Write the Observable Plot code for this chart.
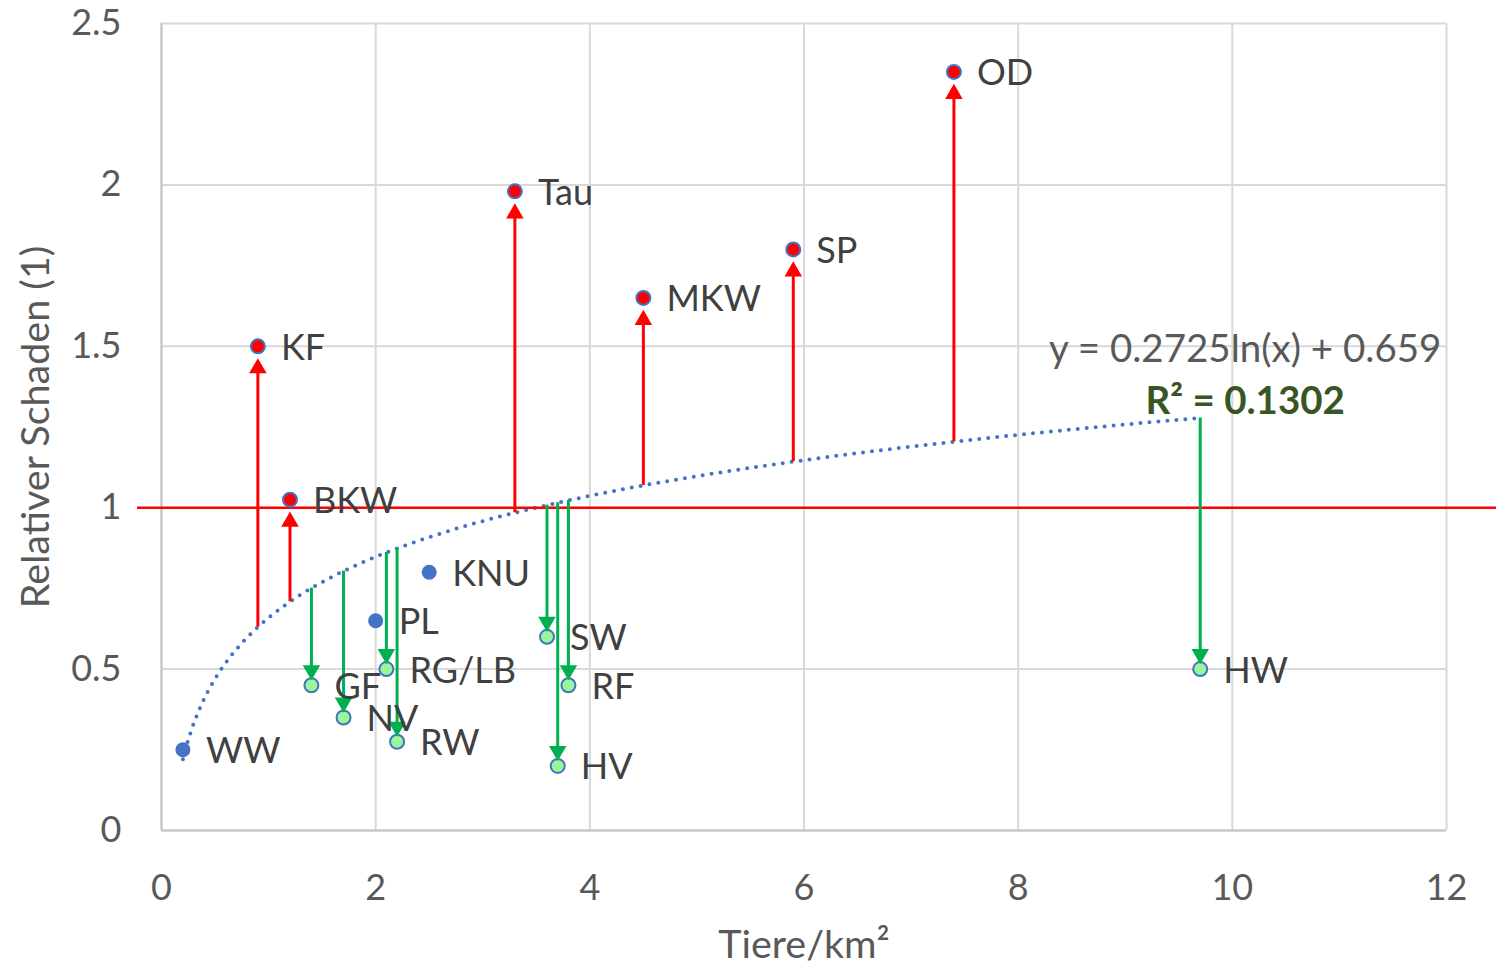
<!DOCTYPE html>
<html>
<head>
<meta charset="utf-8">
<script src="https://cdn.jsdelivr.net/npm/d3@7"></script>
<script src="https://cdn.jsdelivr.net/npm/@observablehq/plot@0.6"></script>
<style>
  body { margin: 0; background: #fff; }
  svg { display: block; }
</style>
</head>
<body>
<div id="chart"></div>
<script>
// ---- data ----
const sites  = ["WW", "KF", "BKW", "GF", "NV", "PL", "RG/LB", "RW", "KNU", "Tau", "SW", "HV", "RF", "MKW", "SP", "OD", "HW"];
const density = [0.2, 0.9, 1.2, 1.4, 1.7, 2.0, 2.1, 2.2, 2.5, 3.3, 3.6, 3.7, 3.8, 4.5, 5.9, 7.4, 9.7];
const damage  = [0.25, 1.5, 1.025, 0.45, 0.35, 0.65, 0.5, 0.275, 0.8, 1.98, 0.6, 0.2, 0.45, 1.65, 1.8, 2.35, 0.5];
// group: "base" = plain series, "above" = above trend, "below" = below trend
const groups  = ["base", "above", "above", "below", "below", "base", "below", "below", "base", "above", "below", "below", "below", "above", "above", "above", "below"];
const xTicks = [0, 2, 4, 6, 8, 10, 12];
const yTicks = [0, 0.5, 1, 1.5, 2, 2.5];
const trendA = 0.2725, trendB = 0.659;   // y = a ln(x) + b
const trendXmin = 0.2, trendXmax = 9.7;
const r2Text = "R\u00B2 = 0.1302";
const eqText = "y = 0.2725ln(x) + 0.659";
const refLevel = 1;

// ---- build tables ----
const trendAt = x => trendA * Math.log(x) + trendB;
const pts = sites.map((s, i) => ({name: s, x: density[i], y: damage[i], g: groups[i], t: trendAt(density[i])}));
const trend = d3.range(0, 201).map(i => {
  const x = trendXmin + (trendXmax - trendXmin) * i / 200;
  return {x, y: trendAt(x)};
});
const above = pts.filter(d => d.g === "above");
const below = pts.filter(d => d.g === "below");
const base = pts.filter(d => d.g === "base");

const FONT = "Lato, 'Open Sans', sans-serif";
const BLUE = "#4472C4", RED = "#FF0000", GREEN = "#00B050", LIGHTGREEN = "#98F898";

const chart = Plot.plot({
  width: 1496,
  height: 965,
  marginLeft: 161,
  marginRight: 50,
  marginTop: 23,
  marginBottom: 135,
  style: {fontFamily: FONT, background: "#fff"},
  x: {domain: [0, 12]},
  y: {domain: [0, 2.5]},
  marks: [
    Plot.gridX(xTicks, {stroke: "#d9d9d9", strokeOpacity: 1, strokeWidth: 2}),
    Plot.gridY(yTicks, {stroke: "#d9d9d9", strokeOpacity: 1, strokeWidth: 2}),
    Plot.ruleX([0], {stroke: "#c4c4c4", strokeWidth: 2}),
    Plot.ruleY([0], {stroke: "#c4c4c4", strokeWidth: 2}),
    Plot.axisX(xTicks, {tickSize: 0, tickPadding: 44, fontSize: 36, fill: "#595959", label: null}),
    Plot.axisY(yTicks, {tickSize: 0, tickPadding: 40, fontSize: 36, fill: "#595959", label: null, tickFormat: d => String(d)}),
    Plot.text(["Tiere/km\u00B2"], {frameAnchor: "bottom", lineAnchor: "middle", textAnchor: "middle", dy: 115, fontSize: 39.5, fill: "#595959"}),
    Plot.text(["Relativer Schaden (1)"], {frameAnchor: "left", lineAnchor: "middle", textAnchor: "middle", dx: -125, rotate: -90, fontSize: 39.5, fill: "#595959"}),
    // trend line
    Plot.line(trend, {x: "x", y: "y", stroke: BLUE, strokeWidth: 4, strokeDasharray: "0 9", strokeLinecap: "round", curve: "linear"}),
    // reference line at 1
    Plot.ruleY([refLevel], {stroke: RED, strokeWidth: 2.5, insetLeft: -24, insetRight: -50}),
    // arrow stems
    Plot.ruleX(above, {x: "x", y1: "y", y2: "t", stroke: RED, strokeWidth: 3, insetTop: 24}),
    Plot.ruleX(below, {x: "x", y1: "t", y2: "y", stroke: GREEN, strokeWidth: 3, insetBottom: 12}),
    // points
    Plot.dot(base, {x: "x", y: "y", r: 7.5, fill: BLUE, stroke: BLUE, strokeWidth: 0}),
    Plot.dot(above, {x: "x", y: "y", r: 7, fill: RED, stroke: BLUE, strokeWidth: 2}),
    Plot.dot(below, {x: "x", y: "y", r: 7, fill: LIGHTGREEN, stroke: BLUE, strokeWidth: 2}),
    // arrow heads
    Plot.dot(above, {x: "x", y: "y", symbol: "triangle", r: 6.5, fill: RED, stroke: "none", dy: 22}),
    Plot.dot(below, {x: "x", y: "y", symbol: "triangle", r: 6.5, fill: GREEN, stroke: "none", rotate: 180, dy: -15}),
    // labels
    Plot.text(pts, {x: "x", y: "y", text: "name", textAnchor: "start", dx: 23, dy: 2, fontSize: 36, fill: "#404040"}),
    // equation annotations, anchored at the end of the trend line
    Plot.text([{x: trendXmax, y: trendAt(trendXmax)}], {x: "x", y: "y", text: () => eqText, dx: 45, dy: -68, fontSize: 38.5, fill: "#595959"}),
    Plot.text([{x: trendXmax, y: trendAt(trendXmax)}], {x: "x", y: "y", text: () => r2Text, dx: 45, dy: -16, fontSize: 38.5, fontWeight: "bold", fill: "#375623"})
  ]
});
document.getElementById("chart").appendChild(chart);
</script>
</body>
</html>
